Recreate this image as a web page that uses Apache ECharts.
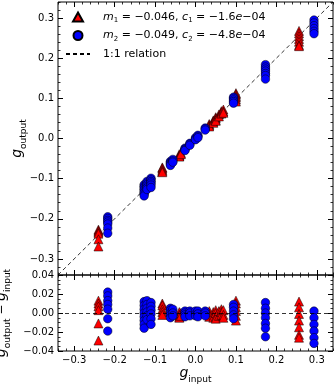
<!DOCTYPE html>
<html>
<head>
<meta charset="utf-8">
<script src="https://cdn.jsdelivr.net/npm/echarts@6/dist/echarts.min.js"></script>
<style>
html, body { margin: 0; padding: 0; background: #fff; }
#main { width: 334px; height: 384px; }
</style>
</head>
<body>
<div id="main"></div>
<script>
// red triangles: input shear per group, and output - input for each realisation
var redX = [-0.240, -0.082, -0.040, -0.036, 0.034, 0.044, 0.050, 0.058, 0.064, 0.069, 0.100, 0.256];
var redDiff = [
    [0.013, 0.010, 0.007, 0.003, -0.011, -0.029],
    [0.010, 0.008, 0.004, 0.001, -0.002],
    [0.001, -0.002, -0.004, -0.005],
    [0.000, -0.003],
    [0.002, -0.001, -0.004],
    [0.001, -0.002, -0.005],
    [0.003, 0.000, -0.004, -0.006],
    [0.002, -0.003],
    [0.004, 0.001, -0.002],
    [0.003, -0.002, -0.005],
    [0.013, 0.010, 0.006, 0.002, -0.003, -0.008],
    [0.012, 0.006, -0.001, -0.008, -0.015, -0.023, -0.026]
];
// blue circles
var blueX = [-0.217, -0.127, -0.120, -0.110, -0.062, -0.056, -0.026, -0.014, 0.000, 0.006, 0.024, 0.094, 0.173, 0.293];
var blueDiff = [
    [0.022, 0.018, 0.013, 0.009, 0.004, -0.006, -0.019],
    [0.012, 0.008, 0.004, 0.000, -0.004, -0.008, -0.012, -0.016],
    [0.013, 0.009, 0.005, 0.001, -0.003, -0.007],
    [0.011, 0.007, 0.003, -0.001, -0.006, -0.012],
    [0.005, 0.003, 0.000, -0.002, -0.005],
    [0.004, 0.000, -0.003],
    [0.002, 0.000, -0.002, -0.004],
    [0.002, 0.000, -0.003],
    [0.002, -0.001, -0.003],
    [0.002, -0.001, -0.004],
    [0.002, 0.000, -0.003],
    [0.009, 0.006, 0.002, -0.002, -0.006],
    [0.011, 0.005, 0.000, -0.005, -0.011, -0.016, -0.025],
    [0.002, -0.005, -0.012, -0.019, -0.026, -0.032]
];
var fitText = {
    m1: ['0.046', '1.6'],
    m2: ['0.049', '4.8']
};
var gTicks = [-0.3, -0.2, -0.1, 0.0, 0.1, 0.2, 0.3];
var dTicks = [-0.04, -0.02, 0.00, 0.02, 0.04];
var gRange = [-0.34, 0.34];
var dRange = [-0.04, 0.04];
var relation = [gRange[0], gRange[1]];

var FONT = 'DejaVu Sans';

function points(xs, diffs, resid) {
    var out = [];
    xs.forEach(function (x, i) {
        diffs[i].forEach(function (d) {
            out.push(resid ? [x, d] : [x, x + d]);
        });
    });
    return out;
}

function minorVals(lo, hi, step) {
    var v = [];
    var n = Math.round((hi - lo) / step);
    for (var k = 0; k <= n; k++) v.push(+(lo + k * step).toFixed(4));
    return v;
}

function fmt(dec) {
    return function (v) {
        var s = Math.abs(v).toFixed(dec);
        return (v < -1e-9 ? '\u2212' : '') + s;
    };
}

var subRich = {
    g: { fontFamily: FONT, fontSize: 14, fontStyle: 'italic', color: '#000', lineHeight: 16 },
    s: { fontFamily: FONT, fontSize: 9, color: '#000', lineHeight: 9, verticalAlign: 'bottom', padding: [0, 0, -3, 0] },
    n: { fontFamily: FONT, fontSize: 12, color: '#000', lineHeight: 16 }
};

// one set of axes per side: major ticks (+labels) and minor ticks
function sideAxes(gridIndex, position, range, major, minor, labels, dec, name, nameGap, freeName) {
    var common = {
        type: 'value', gridIndex: gridIndex, position: position,
        min: range[0], max: range[1],
        axisLine: { show: false, onZero: false },
        splitLine: { show: false }
    };
    var a = Object.assign({}, common, {
        axisTick: { show: true, inside: true, length: 5, customValues: major, lineStyle: { color: '#000', width: 1 } },
        axisLabel: { show: labels, customValues: major, formatter: fmt(dec), color: '#000', fontFamily: FONT, fontSize: 10, margin: 4 }
    });
    if (name) {
        a.name = name;
        a.nameLocation = 'middle';
        a.nameGap = nameGap;
        a.nameTextStyle = { rich: subRich };
        if (freeName) a.nameMoveOverlap = false;
        if (position === 'left') a.nameRotate = 90;
    }
    var b = Object.assign({}, common, {
        axisTick: { show: true, inside: true, length: 2.5, customValues: minor, lineStyle: { color: '#000', width: 0.8 } },
        axisLabel: { show: false }
    });
    return [a, b];
}

var gMinor = minorVals(-0.34, 0.34, 0.02);
var dMinor = minorVals(-0.04, 0.04, 0.005);

var xAxes = [].concat(
    sideAxes(0, 'bottom', gRange, gTicks, gMinor, false, 1),
    sideAxes(0, 'top', gRange, gTicks, gMinor, false, 1),
    sideAxes(1, 'bottom', gRange, gTicks, gMinor, true, 1, '{g|g}{s|input}', 14),
    sideAxes(1, 'top', gRange, gTicks, gMinor, false, 1)
);
var yAxes = [].concat(
    sideAxes(0, 'left', gRange, gTicks, gMinor, true, 1, '{g|g}{s|output}', 33, true),
    sideAxes(0, 'right', gRange, gTicks, gMinor, false, 1),
    sideAxes(1, 'left', dRange, dTicks, dMinor, true, 2, '{g|g}{s|output}{n| \u2212 }{g|g}{s|input}', 45),
    sideAxes(1, 'right', dRange, dTicks, dMinor, false, 2)
);

var redStyle = { color: '#ff0000', borderColor: '#000', borderWidth: 0.5, opacity: 1 };
var blueStyle = { color: '#0000ff', borderColor: '#000', borderWidth: 0.5, opacity: 1 };

var myChart = echarts.init(document.getElementById('main'), null, { renderer: 'canvas' });

var option = {
    animation: false,
    backgroundColor: '#fff',
    grid: [
        { left: 58, right: 1, top: 2, height: 273, show: true, borderColor: '#000', borderWidth: 1, containLabel: false, outerBoundsMode: 'none' },
        { left: 58, right: 1, top: 275, height: 76, show: true, borderColor: '#000', borderWidth: 1, containLabel: false, outerBoundsMode: 'none' }
    ],
    xAxis: xAxes,
    yAxis: yAxes,
    legend: {
        orient: 'vertical',
        left: 60,
        top: 5,
        itemWidth: 24,
        itemHeight: 9,
        itemGap: 4.5,
        selectedMode: false,
        data: [
            { name: 'm1', icon: 'path://M5,0 L10,9 L0,9 Z' },
            { name: 'm2', icon: 'circle' },
            { name: 'rel', itemStyle: { color: 'rgba(0,0,0,0)', borderColor: 'rgba(0,0,0,0)', borderWidth: 0 } }
        ],
        formatter: function (name) {
            if (name === 'rel') return '{n|1:1 relation}';
            var k = name === 'm1' ? '1' : '2';
            return '{i|m}{s|' + k + '}{n| = \u2212' + fitText[name][0] + ', }{i|c}{s|' + k + '}{n| = \u2212' + fitText[name][1] + '}{i|e}{n|\u221204}';
        },
        textStyle: {
            padding: [0, 0, 0, 8],
            lineHeight: 14,
            rich: {
                i: { fontFamily: FONT, fontSize: 11, fontStyle: 'italic', color: '#000', lineHeight: 14 },
                n: { fontFamily: FONT, fontSize: 11, color: '#000', lineHeight: 14 },
                s: { fontFamily: FONT, fontSize: 7, color: '#000', lineHeight: 10, verticalAlign: 'bottom' }
            }
        }
    },
    series: [
        {
            name: 'rel', type: 'line', xAxisIndex: 0, yAxisIndex: 0,
            data: [[relation[0], relation[0]], [relation[1], relation[1]]],
            symbol: 'none', silent: true, z: 1,
            lineStyle: { color: '#000', width: 0.8, type: [4, 3] },
            itemStyle: { color: '#000' }
        },
        {
            name: 'm1', type: 'scatter', xAxisIndex: 0, yAxisIndex: 0,
            data: points(redX, redDiff, false),
            symbol: 'triangle', symbolSize: 9, itemStyle: redStyle, z: 2
        },
        {
            name: 'm2', type: 'scatter', xAxisIndex: 0, yAxisIndex: 0,
            data: points(blueX, blueDiff, false),
            symbol: 'circle', symbolSize: 8.5, itemStyle: blueStyle, z: 3
        },
        {
            name: 'm1', type: 'scatter', xAxisIndex: 4, yAxisIndex: 4,
            data: points(redX, redDiff, true),
            symbol: 'triangle', symbolSize: 9, itemStyle: redStyle, z: 2,
            markLine: {
                silent: true, symbol: 'none', label: { show: false },
                lineStyle: { color: '#000', width: 0.8, type: [4, 3] },
                data: [{ yAxis: 0 }]
            }
        },
        {
            name: 'm2', type: 'scatter', xAxisIndex: 4, yAxisIndex: 4,
            data: points(blueX, blueDiff, true),
            symbol: 'circle', symbolSize: 8.5, itemStyle: blueStyle, z: 3
        }
    ]
};

myChart.setOption(option);
</script>
</body>
</html>
